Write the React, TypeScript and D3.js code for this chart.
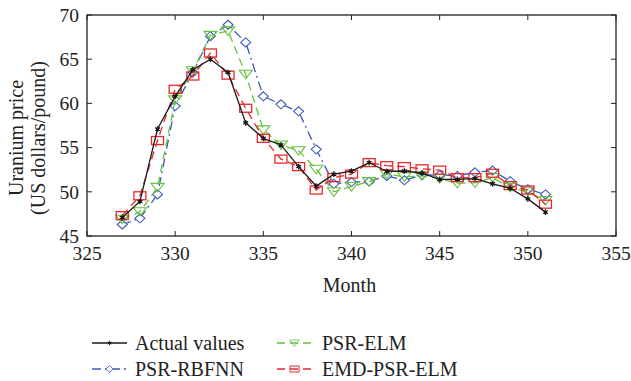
import { useEffect, useRef } from "react";
import * as d3 from "d3";

const months = d3.range(327, 352);
const actual = [47.1, 48.9, 57.1, 60.8, 63.8, 65.0, 63.5, 57.8, 56.05, 55.3, 52.85, 50.65, 52.0, 52.35, 53.3, 52.3, 52.35, 52.1, 51.4, 51.4, 51.5, 50.9, 50.4, 49.2, 47.7];
const rbfnn = [46.3, 47.0, 49.7, 59.7, 63.5, 67.6, 68.9, 66.9, 60.8, 59.9, 59.1, 54.8, 50.9, 51.1, 51.15, 51.8, 51.3, 51.9, 51.9, 51.8, 52.2, 52.4, 51.2, 50.3, 49.7];
const psrElm = [46.9, 47.75, 50.5, 60.4, 63.7, 67.7, 68.2, 63.3, 57.0, 55.3, 54.65, 52.55, 50.0, 50.6, 51.15, 52.0, 51.7, 51.8, 51.5, 50.95, 51.0, 51.6, 50.5, 50.0, 49.0];
const emdElm = [47.3, 49.55, 55.8, 61.6, 63.1, 65.7, 63.2, 59.45, 56.05, 53.7, 52.85, 50.2, 51.6, 52.0, 53.3, 52.95, 52.85, 52.6, 52.45, 51.6, 51.6, 52.1, 50.7, 50.2, 48.6];

const xTicks = [325, 330, 335, 340, 345, 350, 355];
const yTicks = [45, 50, 55, 60, 65, 70];

type Mk = "star" | "diamond" | "tri" | "rect";
const seriesList: { name: string; values: number[]; color: string; dash: string; marker: Mk }[] = [
  { name: "Actual values", values: actual, color: "#1a1a1a", dash: "", marker: "star" },
  { name: "PSR-RBFNN", values: rbfnn, color: "#3a58bd", dash: "9,4,2,4", marker: "diamond" },
  { name: "PSR-ELM", values: psrElm, color: "#66c23a", dash: "8,5", marker: "tri" },
  { name: "EMD-PSR-ELM", values: emdElm, color: "#e8282c", dash: "8,5", marker: "rect" },
];

const FONT = "'Liberation Serif', 'Times New Roman', serif";

function drawMarker(g: d3.Selection<SVGGElement, unknown, null, undefined>, kind: Mk, color: string) {
  if (kind === "star") {
    g.append("path").attr("d", d3.symbol(d3.symbolAsterisk, 22)()).attr("stroke", color).attr("stroke-width", 1.3).attr("fill", "none");
    g.append("circle").attr("r", 1.6).attr("fill", color);
  } else if (kind === "diamond") {
    g.append("path").attr("d", "M0,-4.5L5,0L0,4.5L-5,0Z").attr("stroke", color).attr("stroke-width", 1.1).attr("fill", "white");
  } else if (kind === "tri") {
    g.append("path").attr("d", "M-6.5,-4L6.5,-4L0,4.5Z").attr("stroke", color).attr("stroke-width", 1.1).attr("fill", "none");
  } else {
    g.append("rect").attr("x", -6).attr("y", -4).attr("width", 12).attr("height", 8).attr("stroke", color).attr("stroke-width", 1.3).attr("fill", "none");
  }
}

export default function App() {
  const ref = useRef<SVGSVGElement | null>(null);

  useEffect(() => {
    if (!ref.current) return;
    const svg = d3.select(ref.current);
    svg.selectAll("*").remove();

    const left = 87, right = 616, top = 15, bottom = 236;
    const x = d3.scaleLinear().domain([325, 355]).range([left, right]);
    const y = d3.scaleLinear().domain([45, 70]).range([bottom, top]);

    // frame
    svg.append("rect").attr("x", left).attr("y", top).attr("width", right - left).attr("height", bottom - top)
      .attr("fill", "none").attr("stroke", "#222").attr("stroke-width", 1.3);

    // inward ticks on all sides
    const tk = 5;
    xTicks.forEach(t => {
      svg.append("line").attr("x1", x(t)).attr("x2", x(t)).attr("y1", bottom).attr("y2", bottom - tk).attr("stroke", "#222");
      svg.append("line").attr("x1", x(t)).attr("x2", x(t)).attr("y1", top).attr("y2", top + tk).attr("stroke", "#222");
      svg.append("text").attr("x", x(t)).attr("y", 260).attr("text-anchor", "middle")
        .attr("font-family", FONT).attr("font-size", 19.5).attr("fill", "#222").text(t);
    });
    yTicks.forEach(t => {
      svg.append("line").attr("x1", left).attr("x2", left + tk).attr("y1", y(t)).attr("y2", y(t)).attr("stroke", "#222");
      svg.append("line").attr("x1", right).attr("x2", right - tk).attr("y1", y(t)).attr("y2", y(t)).attr("stroke", "#222");
      svg.append("text").attr("x", 79).attr("y", y(t)).attr("dy", "0.35em").attr("text-anchor", "end")
        .attr("font-family", FONT).attr("font-size", 19.5).attr("fill", "#222").text(t);
    });

    svg.append("text").attr("x", (left + right) / 2 - 2).attr("y", 292).attr("text-anchor", "middle")
      .attr("font-family", FONT).attr("font-size", 20).attr("fill", "#222").text("Month");

    const yl = svg.append("g").attr("transform", "translate(0,138) rotate(-90)");
    yl.append("text").attr("x", 0).attr("y", 23).attr("text-anchor", "middle")
      .attr("font-family", FONT).attr("font-size", 20).attr("fill", "#222").text("Uranium price");
    yl.append("text").attr("x", 0).attr("y", 45).attr("text-anchor", "middle")
      .attr("font-family", FONT).attr("font-size", 20).attr("fill", "#222").text("(US dollars/pound)");

    const line = d3.line<number>().x((_, i) => x(months[i])).y(d => y(d));

    // draw in order: rbfnn, elm, emd, actual on top
    const order = [1, 2, 3, 0];
    order.forEach(si => {
      const s = seriesList[si];
      svg.append("path").attr("d", line(s.values)).attr("fill", "none").attr("stroke", s.color)
        .attr("stroke-width", 1.3).attr("stroke-dasharray", s.dash);
      s.values.forEach((v, i) => {
        const g = svg.append("g").attr("transform", `translate(${x(months[i])},${y(v)})`);
        drawMarker(g, s.marker, s.color);
      });
    });

    // legend
    const legendPos = [
      { lx: 92, ly: 343 },
      { lx: 92, ly: 369 },
      { lx: 277, ly: 343 },
      { lx: 277, ly: 369 },
    ];
    seriesList.forEach((s, i) => {
      const p = legendPos[i];
      const g = svg.append("g").attr("transform", `translate(${p.lx},${p.ly})`);
      g.append("line").attr("x1", 0).attr("x2", 35).attr("y1", 0).attr("y2", 0).attr("stroke", s.color)
        .attr("stroke-width", 1.3).attr("stroke-dasharray", s.dash);
      const m = g.append("g").attr("transform", "translate(17.5,0) scale(0.75)");
      drawMarker(m, s.marker, s.color);
      g.append("text").attr("x", i < 2 ? 43 : 45).attr("y", 0).attr("dy", "0.33em")
        .attr("font-family", FONT).attr("font-size", 20).attr("fill", "#222").text(s.name);
    });
  }, []);

  return <svg ref={ref} width={631} height={381} style={{ position: "absolute", left: 0, top: 0, background: "white" }} />;
}
